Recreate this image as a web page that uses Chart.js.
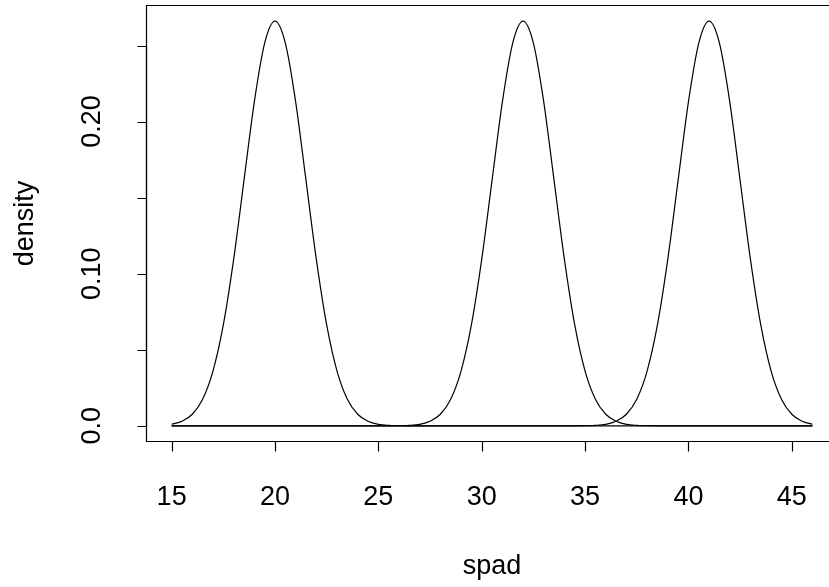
<!DOCTYPE html>
<html>
<head>
<meta charset="utf-8">
<script src="https://cdn.jsdelivr.net/npm/chart.js@4/dist/chart.umd.min.js"></script>
<style>
html,body{margin:0;padding:0;background:#fff;overflow:hidden;}
#wrap{width:829px;height:587px;position:relative;overflow:hidden;}
canvas{display:block;}
</style>
</head>
<body>
<div id="wrap"><canvas id="c" width="829" height="587"></canvas></div>
<script>
// x grid of the curves (spad)
const spad = [15,15.5,16,16.5,17,17.5,18,18.5,19,19.5,20,20.5,21,21.5,22,22.5,23,23.5,24,24.5,25,25.5,26,26.5,27,27.5,28,28.5,29,29.5,30,30.5,31,31.5,32,32.5,33,33.5,34,34.5,35,35.5,36,36.5,37,37.5,38,38.5,39,39.5,40,40.5,41,41.5,42,42.5,43,43.5,44,44.5,45,45.5,46];
// density curves
const densityA = [0.001,0.003,0.0076,0.0175,0.036,0.0663,0.1094,0.1613,0.213,0.2516,0.266,0.2516,0.213,0.1613,0.1094,0.0663,0.036,0.0175,0.0076,0.003,0.001,0.0003,0.0001,
  0,0,0,0,0,0,0,0,0,0,0,0,0,0,0,0,0,0,0,0,0,0,0,0,0,0,0,0,0,0,0,0,0,0,0,0,0,0,0,0];
const densityB = [0,0,0,0,0,0,0,0,0,0,0,0,0,0,0,0,0,0,0,0,0,0,
  0.0001,0.0003,0.001,0.003,0.0076,0.0175,0.036,0.0663,0.1094,0.1613,0.213,0.2516,0.266,0.2516,0.213,0.1613,0.1094,0.0663,0.036,0.0175,0.0076,0.003,0.001,0.0003,0.0001,
  0,0,0,0,0,0,0,0,0,0,0,0,0,0,0,0];
const densityC = [0,0,0,0,0,0,0,0,0,0,0,0,0,0,0,0,0,0,0,0,0,0,0,0,0,0,0,0,0,0,0,0,0,0,0,0,0,0,0,0,
  0.0001,0.0003,0.001,0.003,0.0076,0.0175,0.036,0.0663,0.1094,0.1613,0.213,0.2516,0.266,0.2516,0.213,0.1613,0.1094,0.0663,0.036,0.0175,0.0076,0.003,0.001];
const xTicks = [15,20,25,30,35,40,45];
const yTicks = [0,0.05,0.10,0.15,0.20,0.25];
const yTickLabels = {"0":"0.0","0.1":"0.10","0.2":"0.20"};
const xTitle = "spad";
const yTitle = "density";

const FONT = '27px "Liberation Sans", Arial, sans-serif';
// the plot region of the reference runs past the right edge of the picture
const X_MIN = 13.76, X_MAX_VISIBLE = 46.80, PLOT_X_CENTER = 30.5;

function mk(ys){ return spad.map((x,i)=>({x:x,y:ys[i]})); }
const ds = [densityA, densityB, densityC].map(ys=>({
  data: mk(ys), borderColor:'#000', borderWidth:1.2, pointRadius:0, fill:false,
  cubicInterpolationMode:'monotone'
}));

const axesPlugin = {
  id:'rAxes',
  afterDraw(chart){
    const ctx = chart.ctx, a = chart.chartArea;
    const xs = chart.scales.x, ys = chart.scales.y;
    ctx.save();
    ctx.strokeStyle = '#000'; ctx.lineWidth = 1.2; ctx.fillStyle = '#000';
    const bottom = Math.round(a.bottom)-0.5, left = Math.round(a.left)+0.5, top = Math.round(a.top)+0.5;
    // box: top, left, bottom (right side is outside the picture)
    ctx.beginPath();
    ctx.moveTo(chart.width+2, top); ctx.lineTo(left, top); ctx.lineTo(left, bottom); ctx.lineTo(chart.width+2, bottom);
    ctx.stroke();
    // x axis ticks
    ctx.beginPath();
    xTicks.forEach(v=>{ const p=Math.round(xs.getPixelForValue(v))+0.5; ctx.moveTo(p,bottom); ctx.lineTo(p,bottom+10); });
    ctx.stroke();
    ctx.font = FONT; ctx.textAlign='center'; ctx.textBaseline='middle';
    xTicks.forEach(v=>{ ctx.fillText(String(v), xs.getPixelForValue(v), 498); });
    // y axis
    ctx.beginPath();
    const y0 = Math.round(ys.getPixelForValue(yTicks[0]))+0.5, y1 = Math.round(ys.getPixelForValue(yTicks[yTicks.length-1]))+0.5;
    ctx.moveTo(left,y0); ctx.lineTo(left,y1);
    yTicks.forEach(v=>{ const p=Math.round(ys.getPixelForValue(v))+0.5; ctx.moveTo(left,p); ctx.lineTo(left-9,p); });
    ctx.stroke();
    yTicks.forEach(v=>{
      const key = String(Math.round(v*100)/100);
      if(!(key in yTickLabels)) return;
      ctx.save(); ctx.translate(93, ys.getPixelForValue(v)); ctx.rotate(-Math.PI/2);
      ctx.fillText(yTickLabels[key],0,0); ctx.restore();
    });
    // titles
    ctx.fillText(xTitle, xs.getPixelForValue(PLOT_X_CENTER), 567);
    ctx.save(); ctx.translate(26,(a.top+a.bottom)/2); ctx.rotate(-Math.PI/2);
    ctx.fillText(yTitle,0,0); ctx.restore();
    ctx.restore();
  }
};

new Chart(document.getElementById('c'), {
  type:'line',
  data:{ datasets: ds },
  options:{
    responsive:false, animation:false,
    layout:{ padding:{ left:146, top:5, right:0, bottom:145 } },
    plugins:{ legend:{display:false}, tooltip:{enabled:false} },
    scales:{
      x:{ type:'linear', min:X_MIN, max:X_MAX_VISIBLE, display:false },
      y:{ type:'linear', min:-0.01064, max:0.27664, display:false }
    }
  },
  plugins:[axesPlugin]
});
</script>
</body>
</html>
